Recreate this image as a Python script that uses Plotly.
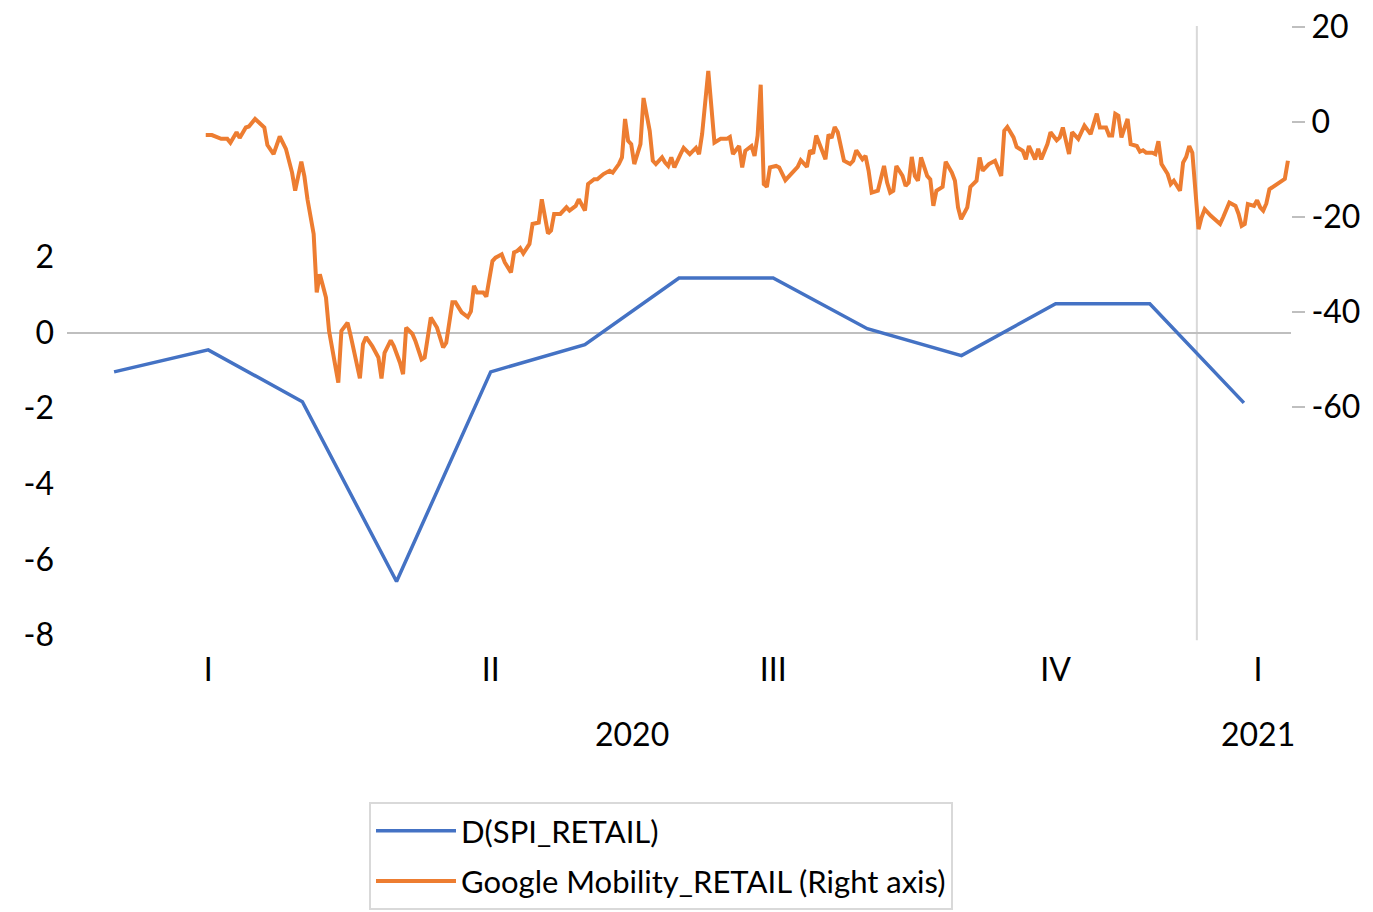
import pandas as pd
import plotly.graph_objects as go

# ---- data ----
months = ["2020-01", "2020-02", "2020-03", "2020-04", "2020-05", "2020-06", "2020-07",
          "2020-08", "2020-09", "2020-10", "2020-11", "2020-12", "2021-01"]
spi_retail = [-1.04, -0.46, -1.83, -6.58, -1.04, -0.32, 1.44, 1.44, 0.10, -0.61, 0.76, 0.76, -1.86]

quarter_pos = [1, 4, 7, 10, 12.15]
quarter_text = ["I", "II", "III", "IV", "I"]
year_pos = [5.5, 12.15]
year_text = ["2020", "2021"]

mob_start = "2020-02-15"
mob_day = [0, 2, 5, 7, 8, 10, 11, 13, 14, 16, 17, 19, 20, 22, 24, 26, 28, 29, 31, 32, 33, 34, 35, 36, 37, 38, 39, 40,
           42, 43, 44, 46, 47, 48, 50, 51, 52, 54, 56, 57, 58, 60, 61, 63, 64, 65, 67, 68, 70, 71, 73, 75, 77, 78, 80,
           81, 83, 85, 86, 87, 88, 90, 91, 93, 94, 96, 97, 99, 100, 101, 102, 103, 105, 106, 108, 109, 111, 112, 113,
           115, 117, 118, 120, 121, 123, 124, 126, 127, 129, 131, 132, 134, 135, 136, 137, 138, 139, 141, 142, 144,
           145, 146, 148, 149, 150, 151, 152, 154, 155, 157, 159, 160, 161, 163, 164, 165, 167, 169, 170, 171, 173,
           174, 175, 177, 178, 179, 180, 181, 182, 183, 185, 186, 188, 190, 192, 193, 195, 196, 197, 198, 201, 202,
           203, 204, 205, 207, 208, 209, 210, 211, 213, 214, 215, 216, 218, 220, 221, 222, 223, 224, 226, 227, 228,
           229, 230, 231, 232, 234, 235, 236, 237, 239, 240, 242, 243, 244, 245, 247, 248, 250, 251, 252, 254, 256,
           258, 259, 260, 262, 263, 265, 266, 267, 269, 270, 271, 273, 274, 276, 277, 278, 280, 281, 283, 284, 285,
           287, 288, 289, 290, 292, 293, 294, 295, 296, 297, 298, 299, 300, 302, 303, 304, 305, 307, 308, 309, 310,
           312, 313, 314, 316, 317, 318, 319, 320, 322, 323, 324, 326, 328, 329, 330, 332, 334, 335, 336, 337, 338,
           340, 341, 342, 343, 344, 345, 347, 348, 350, 351]
mob_retail = [-2.8, -2.8, -3.6, -3.6, -4.4, -2.2, -3.4, -1.2, -1.0, 0.6, 0.0, -1.2, -4.9, -6.8, -3.1, -5.7, -10.7,
              -14.5, -8.4, -11.5, -16.3, -20.1, -23.6, -35.9, -32.1, -34.5, -37.0, -44.0,
              -51.0, -54.9, -44.0, -42.3, -45.0, -48.2, -54.0, -46.8, -45.3, -47.2, -49.6, -54.0, -48.6, -46.0, -47.2,
              -50.7, -53.1, -43.3, -44.6, -46.1, -50.0, -49.6, -41.2, -43.3, -47.5, -46.5, -38.0,
              -38.0, -40.1, -41.1, -39.9, -34.5, -35.9, -35.9, -36.8, -29.3, -28.6, -27.9, -29.6, -31.7, -27.5, -27.2,
              -26.6, -27.7, -25.7, -21.5, -21.2, -16.3, -23.5, -22.9, -19.4,
              -19.4, -18.0, -18.7, -17.7, -16.3, -18.7, -13.1, -12.1, -12.1, -11.0, -10.3, -10.7, -8.9, -7.5, 0.6,
              -4.0, -4.7, -8.9, -4.7, 5.0, -1.9,
              -8.2, -8.9, -7.5, -8.6, -9.3, -7.5, -9.6, -6.8, -5.5, -6.8, -5.5, -6.8, -2.6, 10.7, 2.0, -4.4, -3.6,
              -3.6, -3.2, -6.8, -5.1,
              -9.6, -6.1, -5.1, -7.2, -2.9, 7.8, -13.1, -13.7, -9.6, -9.3, -9.6, -12.3, -11.0, -9.5, -8.1, -9.5, -6.0,
              -6.7, -2.9, -7.9, -2.7,
              -3.4, -1.1, -2.2, -8.2, -8.6, -8.9, -8.2, -6.0, -7.9, -7.2, -10.3, -14.9, -14.5, -9.3, -12.8, -14.9,
              -14.5, -9.3, -11.4, -13.5, -12.8,
              -7.4, -11.4, -12.4, -7.5, -11.4, -12.1, -17.7, -14.5, -13.7, -8.4, -10.7, -12.4, -18.0, -20.5, -18.0,
              -13.7, -12.4, -7.5, -10.3, -8.9, -8.2,
              -11.4, -1.9, -1.1, -3.3, -5.3, -6.1, -7.9, -5.1, -7.9, -5.7, -7.9, -4.7, -2.2, -3.9, -3.3, -1.2, -6.8,
              -2.2, -3.6, -2.0, -0.8,
              -2.6, -0.1, 1.7, -1.2, -1.2, -2.9, -2.9, 1.7, 1.3, -3.3, -1.5, 0.6, -4.7, -5.1, -6.3, -6.0, -6.5, -6.5,
              -6.8, -4.1, -8.9,
              -11.0, -13.1, -12.4, -14.5, -8.6, -7.4, -5.1, -6.5, -22.6, -20.1, -18.4, -19.8, -20.8, -21.5, -20.1,
              -17.0, -17.7, -19.4, -21.9, -21.5, -17.3,
              -17.7, -16.5, -18.0, -18.7, -17.2, -14.2, -13.3, -13.1, -12.0, -8.2]

left_labels = [-8, -6, -4, -2, 0, 2]
left_grid = [-6, -4, -2, 2]
right_labels = [-60, -40, -20, 0, 20]
right_grid = [-60, -40, -20, 0]

# ---- figure ----
FONT = "Lato, Carlito, Calibri, sans-serif"
BLUE = "#4472C4"
ORANGE = "#ED7D31"
GRID = "#D9D9D9"

mob_dates = pd.Timestamp(mob_start) + pd.to_timedelta(mob_day, unit="D")
month_idx = list(range(len(months)))

fig = go.Figure()
fig.add_trace(go.Scatter(x=month_idx, y=spi_retail, mode="lines", name="D(SPI_RETAIL)",
                         line=dict(color=BLUE, width=3.5), legendgroup="a",
                         xaxis="x", yaxis="y"))
fig.add_trace(go.Scatter(x=mob_dates, y=mob_retail, mode="lines",
                         name="Google Mobility_RETAIL (Right axis)",
                         line=dict(color=ORANGE, width=4), legendgroup="b",
                         xaxis="x2", yaxis="y2"))

LRANGE = [-8.02, 8.1]
RRANGE = [-108.2, 20.15]
TICKSIZE = 32

fig.update_layout(
    width=1373, height=912,
    margin=dict(l=59, r=90, t=18, b=284, autoexpand=False),
    paper_bgcolor="white", plot_bgcolor="white",
    font=dict(family=FONT, size=TICKSIZE, color="#000000"),
    xaxis=dict(range=[-0.5, 12.5], tickmode="array", tickvals=quarter_pos, ticktext=quarter_text,
               showgrid=False, zeroline=False, showline=False, ticks="", ticklabelstandoff=12,
               tickfont=dict(size=TICKSIZE)),
    xaxis2=dict(type="date", overlaying="x", range=["2020-01-01", "2021-02-01"], visible=False),
    yaxis=dict(range=LRANGE, tickmode="array", tickvals=left_labels,
               ticktext=[str(v) for v in left_labels], showgrid=False,
               zeroline=True, zerolinecolor="#BFBFBF", zerolinewidth=2, showline=False,
               ticks="", ticklabelstandoff=12, tickfont=dict(size=TICKSIZE),
               ticklabeloverflow="allow"),
    yaxis3=dict(range=LRANGE, overlaying="y", tickmode="array", tickvals=left_grid,
                showgrid=True, gridcolor=GRID, gridwidth=2, showticklabels=False, zeroline=False),
    yaxis2=dict(range=RRANGE, overlaying="y", side="right", tickmode="array", tickvals=right_labels,
                ticktext=[str(v) for v in right_labels],
                showgrid=False, zeroline=False, showline=False, ticks="outside", ticklen=13,
                tickwidth=2, tickcolor="#BFBFBF", tickfont=dict(size=TICKSIZE),
                ticklabeloverflow="allow"),
    yaxis4=dict(range=RRANGE, overlaying="y", side="right", tickmode="array", tickvals=right_grid,
                showgrid=True, gridcolor=GRID, gridwidth=2, showticklabels=False, zeroline=False,
                ticks=""),
    legend=dict(x=(369 - 67) / 1224, y=-(802 - 636) / 610, xanchor="left", yanchor="top",
                bordercolor=GRID, borderwidth=2, font=dict(size=31), traceorder="grouped",
                tracegroupgap=7, itemwidth=80, entrywidth=600, entrywidthmode="pixels"),
    showlegend=True,
)

# year separator on the category axis
fig.add_shape(type="line", xref="x", yref="paper", x0=11.5, x1=11.5, y0=-0.007, y1=1,
              line=dict(color=GRID, width=2), layer="below")

for xp, t in zip(year_pos, year_text):
    fig.add_annotation(x=xp, xref="x", y=-(733 - 636) / 610, yref="paper", text=t,
                       showarrow=False, font=dict(size=TICKSIZE), yanchor="middle")

fig.write_html("out.html")
